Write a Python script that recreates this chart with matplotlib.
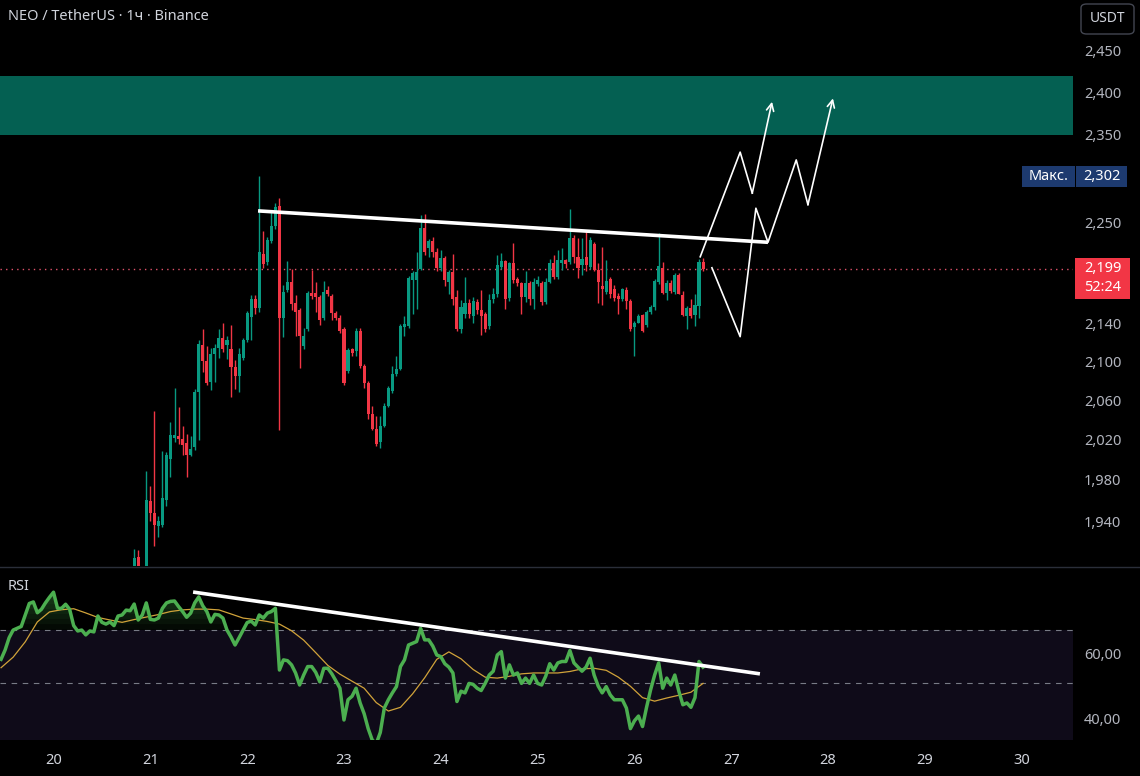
import numpy as np
import matplotlib
matplotlib.use("Agg")
import matplotlib.pyplot as plt
from matplotlib.patches import Rectangle, FancyBboxPatch
from matplotlib.lines import Line2D
from matplotlib.ticker import NullLocator

plt.rcParams['font.family'] = ['Noto Sans', 'DejaVu Sans']

# ------------------------------------------------------------------
# DATA  (time = hours since the 20th 00:00, hourly candles)
# ------------------------------------------------------------------
first_hour = 19
opens = [
    1880, 1888, 1906, 1893, 1884, 1959, 1948, 1935, 1936, 1960,
    2001, 2022, 2024, 2021, 2017, 2005, 2013, 2068, 2117, 2100,
    2079, 2108, 2114, 2125, 2117, 2113, 2094, 2085, 2104, 2123,
    2147, 2166, 2157, 2215, 2206, 2229, 2246, 2268, 2146, 2176,
    2184, 2162, 2154, 2116, 2134, 2173, 2173, 2168, 2146, 2176,
    2169, 2151, 2146, 2134, 2090, 2113, 2111, 2132, 2095, 2078,
    2046, 2031, 2018, 2034, 2054, 2069, 2087, 2092, 2136, 2137,
    2187, 2187, 2199, 2244, 2222, 2229, 2217, 2200, 2211, 2184,
    2195, 2168, 2134, 2150, 2162, 2148, 2163, 2154, 2150, 2137,
    2166, 2172, 2201, 2207, 2167, 2205, 2188, 2183, 2168, 2183,
    2166, 2182, 2183, 2163, 2185, 2205, 2190, 2205, 2208, 2206,
    2233, 2212, 2203, 2212, 2201, 2226, 2198, 2180, 2174, 2188,
    2177, 2169, 2166, 2176, 2164, 2136, 2141, 2149, 2138, 2152,
    2158, 2184, 2200, 2173, 2183, 2174, 2192, 2170, 2148, 2157,
    2149, 2159, 2206,
]
highs = [
    1893, 1913, 1912, 1897, 1989, 1974, 2049, 1945, 2009, 2008,
    2038, 2072, 2053, 2034, 2026, 2024, 2071, 2122, 2134, 2116,
    2114, 2118, 2134, 2140, 2127, 2138, 2102, 2114, 2125, 2153,
    2170, 2170, 2302, 2241, 2234, 2262, 2272, 2278, 2181, 2207,
    2199, 2170, 2156, 2135, 2175, 2198, 2185, 2170, 2186, 2180,
    2171, 2153, 2149, 2136, 2114, 2114, 2135, 2135, 2097, 2080,
    2054, 2044, 2044, 2057, 2075, 2095, 2106, 2139, 2148, 2191,
    2196, 2217, 2258, 2259, 2232, 2234, 2222, 2220, 2213, 2198,
    2215, 2176, 2165, 2190, 2166, 2168, 2166, 2176, 2152, 2171,
    2178, 2214, 2216, 2208, 2206, 2227, 2190, 2185, 2197, 2186,
    2189, 2191, 2186, 2189, 2210, 2214, 2220, 2222, 2210, 2265,
    2236, 2233, 2233, 2240, 2234, 2228, 2205, 2223, 2208, 2190,
    2181, 2173, 2178, 2179, 2166, 2143, 2150, 2150, 2154, 2160,
    2188, 2238, 2206, 2187, 2187, 2194, 2194, 2175, 2159, 2166,
    2172, 2210, 2211,
]
lows = [
    1872, 1885, 1885, 1876, 1880, 1940, 1916, 1925, 1934, 1955,
    1983, 2018, 2016, 2005, 1983, 2004, 2010, 2020, 2089, 2076,
    2070, 2079, 2104, 2110, 2103, 2063, 2071, 2068, 2102, 2120,
    2123, 2150, 2152, 2200, 2203, 2227, 2243, 2030, 2126, 2174,
    2154, 2127, 2093, 2113, 2132, 2166, 2152, 2138, 2144, 2169,
    2144, 2144, 2130, 2076, 2088, 2106, 2106, 2093, 2073, 2041,
    2030, 2014, 2012, 2033, 2053, 2067, 2085, 2091, 2127, 2135,
    2150, 2155, 2198, 2214, 2212, 2212, 2196, 2196, 2180, 2172,
    2160, 2132, 2130, 2146, 2146, 2140, 2150, 2128, 2131, 2134,
    2162, 2168, 2199, 2155, 2164, 2183, 2180, 2150, 2163, 2160,
    2155, 2180, 2160, 2161, 2183, 2188, 2188, 2198, 2200, 2204,
    2205, 2189, 2192, 2197, 2199, 2196, 2162, 2160, 2171, 2167,
    2164, 2150, 2164, 2155, 2132, 2106, 2140, 2131, 2136, 2150,
    2154, 2182, 2171, 2165, 2173, 2171, 2171, 2148, 2134, 2146,
    2137, 2146, 2197,
]
closes = [
    1888, 1905, 1893, 1884, 1960, 1948, 1936, 1940, 1962, 2005,
    2025, 2025, 2021, 2015, 2005, 2011, 2068, 2118, 2100, 2078,
    2108, 2114, 2125, 2113, 2123, 2094, 2085, 2108, 2123, 2151,
    2166, 2157, 2217, 2204, 2230, 2246, 2267, 2146, 2174, 2184,
    2161, 2152, 2127, 2127, 2173, 2169, 2168, 2144, 2174, 2171,
    2151, 2146, 2132, 2078, 2112, 2109, 2132, 2095, 2078, 2046,
    2031, 2016, 2034, 2054, 2073, 2087, 2092, 2137, 2139, 2189,
    2194, 2195, 2244, 2217, 2229, 2217, 2200, 2211, 2187, 2195,
    2166, 2134, 2158, 2162, 2150, 2164, 2154, 2148, 2134, 2165,
    2172, 2203, 2207, 2166, 2205, 2187, 2183, 2168, 2183, 2166,
    2185, 2187, 2163, 2185, 2205, 2190, 2208, 2208, 2204, 2233,
    2212, 2200, 2210, 2203, 2230, 2198, 2184, 2177, 2186, 2172,
    2167, 2166, 2177, 2164, 2134, 2141, 2148, 2132, 2152, 2158,
    2186, 2202, 2173, 2183, 2175, 2192, 2172, 2149, 2157, 2148,
    2160, 2206, 2199,
]

# RSI(14), one value per hour starting at hour -13
rsi_first_hour = -13
rsi = [
    58.0, 61.5, 66.5, 69.8, 70.6, 71.4, 76.8, 82.6, 83.4, 77.9,
    79.6, 82.9, 85.9, 88.7, 80.1, 80.1, 82.2, 79.6, 71.8, 69.4,
    69.8, 67.7, 69.4, 69.0, 76.3, 73.3, 72.5, 73.5, 71.8, 76.3,
    76.8, 79.2, 78.9, 82.3, 74.4, 76.8, 82.9, 74.7, 74.4, 75.3,
    80.1, 82.9, 83.7, 83.9, 81.0, 78.5, 75.7, 77.7, 82.9, 86.1,
    81.4, 78.5, 73.5, 77.1, 76.8, 75.3, 69.8, 66.8, 63.5, 66.5,
    69.8, 73.2, 73.9, 72.1, 76.8, 75.3, 77.7, 78.5, 80.1, 54.2,
    57.8, 57.5, 56.0, 53.2, 49.3, 52.5, 55.4, 55.4, 53.4, 50.3,
    54.8, 54.8, 52.9, 50.6, 48.3, 39.5, 44.9, 45.9, 48.3, 44.0,
    41.1, 37.4, 34.8, 34.0, 36.5, 42.6, 44.9, 46.9, 48.8, 55.4,
    57.8, 63.5, 64.2, 64.9, 70.6, 65.6, 65.6, 63.1, 59.6, 59.0,
    56.4, 55.2, 53.2, 44.4, 47.4, 46.9, 49.8, 49.5, 48.3, 47.6,
    49.8, 52.5, 53.8, 59.6, 60.9, 51.5, 56.0, 52.5, 53.2, 49.8,
    51.5, 49.8, 52.5, 49.8, 49.3, 52.1, 56.4, 54.2, 56.7, 57.2,
    57.2, 61.3, 56.7, 55.2, 53.8, 55.2, 58.4, 52.5, 49.0, 46.9,
    48.8, 46.3, 44.9, 44.9, 44.9, 42.6, 37.4, 39.3, 40.5, 37.9,
    42.8, 47.8, 52.5, 56.7, 48.3, 51.5, 49.3, 52.5, 47.4, 43.5,
    44.0, 42.8, 45.5, 57.2, 55.2,
]
# RSI-based moving average, read every 3 hours from hour -13
ma_step = 3
rsi_ma = [
    55.0, 58.8, 64.8, 73.5, 78.3, 79.4, 79.9, 77.8, 75.6, 74.4,
    73.3, 74.6, 75.8, 77.0, 78.5, 79.3, 79.7, 79.7, 79.3, 77.3,
    75.3, 74.6, 73.7, 72.5, 69.5, 65.5, 60.5, 55.8, 52.8, 50.5,
    48.3, 44.1, 41.8, 42.8, 46.6, 51.6, 58.0, 60.8, 58.2, 54.4,
    51.8, 51.5, 52.1, 52.9, 53.2, 53.2, 53.2, 53.7, 54.6, 54.8,
    54.1, 51.8, 48.9, 45.5, 44.5, 45.4, 46.2, 47.1, 49.8,
]

# drawings (hour, price) / (hour, rsi)
zone_low, zone_high = 2350, 2420
resist_hours = [50.7, 177.1]
resist_prices = [2263, 2228]
path1_hours = [160.3, 170.2, 173.2, 178.1]
path1_prices = [2212, 2330, 2283, 2389]
path2_hours = [163.2, 170.2, 174.1, 177.1, 184.1, 187.0, 193.2]
path2_prices = [2200, 2126, 2266, 2228, 2321, 2270, 2393]
rsi_line_hours = [34.6, 175.1]
rsi_line_values = [88.8, 52.9]

last_price = 2199
max_price = 2302
countdown = "52:24"
price_ticks = [1940, 1980, 2020, 2060, 2100, 2140, 2250, 2350, 2400, 2450]
rsi_ticks = [40, 60]
day_labels = [20, 21, 22, 23, 24, 25, 26, 27, 28, 29, 30]

# ------------------------------------------------------------------
# STYLE
# ------------------------------------------------------------------
BG = "#000000"
UP = "#089981"
DOWN = "#f23645"
TEXT = "#d1d4dc"
AXIS_TEXT = "#b2b5be"
FS = 10.5
W, H = 1140, 776

fig = plt.figure(figsize=(W / 100, H / 100), dpi=100, facecolor=BG)


def box(x0, y0, x1, y1):
    # pixel box (top-left origin) -> figure fraction rect
    return [x0 / W, 1 - y1 / H, (x1 - x0) / W, (y1 - y0) / H]


ax = fig.add_axes(box(0, 0, 1073, 566))
ax_rsi = fig.add_axes(box(0, 568, 1073, 740), sharex=ax)
for a in (ax, ax_rsi):
    a.set_facecolor(BG)
    for s in a.spines.values():
        s.set_visible(False)

# ------------------------------------------------------------------
# PRICE PANEL
# ------------------------------------------------------------------
o = np.array(opens, float)
hi = np.array(highs, float)
lo = np.array(lows, float)
c = np.array(closes, float)
hours = first_hour + np.arange(len(o))
cols = np.where(c >= o, UP, DOWN)

ax.axhspan(zone_low, zone_high, color="#046052", lw=0, zorder=0)
ax.axhline(last_price, color="#e0526a", lw=1.0, ls=(0, (1, 3)), zorder=1)
ax.vlines(hours, lo, hi, colors=cols, lw=1.0, zorder=2)
ax.bar(hours, np.maximum(np.abs(c - o), 1.2), bottom=np.minimum(o, c),
       width=0.76, color=cols, lw=0, zorder=3)

ax.plot(resist_hours, resist_prices, color="white", lw=2.6,
        solid_capstyle="butt", zorder=5)
for ph, pp in ((path1_hours, path1_prices), (path2_hours, path2_prices)):
    ax.plot(ph[:-1], pp[:-1], color="white", lw=1.2, zorder=5)
    ax.annotate("", xy=(ph[-1], pp[-1]), xytext=(ph[-2], pp[-2]),
                arrowprops=dict(arrowstyle="->", color="white", lw=1.2,
                                mutation_scale=13, shrinkA=0, shrinkB=0),
                zorder=5)

ax.set_yscale("log")
ax.set_ylim(1897.2, 2512.8)
ax.set_xlim(-13.26, 252.7)
ax.yaxis.tick_right()
ax.set_yticks(price_ticks, [f"{v:,}" for v in price_ticks])
ax.yaxis.set_minor_locator(NullLocator())
ax.tick_params(axis="y", length=0, pad=8, labelcolor=AXIS_TEXT, labelsize=FS)
ax.tick_params(axis="x", bottom=False, labelbottom=False)

# ------------------------------------------------------------------
# RSI PANEL
# ------------------------------------------------------------------
r = np.array(rsi)
rh = rsi_first_hour + np.arange(len(r))
mh = rsi_first_hour + ma_step * np.arange(len(rsi_ma))

ax_rsi.axhspan(30, 70, color="#0f0b19", lw=0, zorder=0)
for lvl in np.linspace(70, 92, 10):
    ax_rsi.fill_between(rh, lvl, r, where=r > lvl, interpolate=True,
                        color="#4caf50", alpha=0.06, lw=0, zorder=1)
for lvl in (70, 50):
    ax_rsi.axhline(lvl, color="#787b86", lw=0.8, ls=(0, (5, 5)), zorder=1)
ax_rsi.plot(mh, rsi_ma, color="#d1a33a", lw=0.9, zorder=2)
ax_rsi.plot(rh, r, color="#4caf50", lw=2.5, zorder=3)
ax_rsi.plot(rsi_line_hours, rsi_line_values, color="white", lw=2.6,
            solid_capstyle="butt", zorder=4)

ax_rsi.set_yscale("log")
ax_rsi.set_ylim(34.8, 103.4)
ax_rsi.yaxis.tick_right()
ax_rsi.set_yticks(rsi_ticks, [f"{v},00" for v in rsi_ticks])
ax_rsi.yaxis.set_minor_locator(NullLocator())
ax_rsi.tick_params(axis="y", length=0, pad=8, labelcolor=AXIS_TEXT, labelsize=FS)

ax_rsi.set_xticks([24 * (d - day_labels[0]) for d in day_labels],
                  [str(d) for d in day_labels])
ax_rsi.tick_params(axis="x", length=0, pad=9, labelcolor=TEXT, labelsize=FS)
for lab in ax_rsi.get_xticklabels():
    if lab.get_text() == "24":
        lab.set_fontweight("bold")

# ------------------------------------------------------------------
# LABELS / TAGS
# ------------------------------------------------------------------
fig.add_artist(Line2D([0, 1], [1 - 567 / H] * 2, color="#2a2e39", lw=1,
                      transform=fig.transFigure))
fig.text(8 / W, 1 - 16 / H, "NEO / TetherUS · 1ч · Binance", color=TEXT,
         fontsize=FS, va="center")
fig.text(8 / W, 1 - 586 / H, "RSI", color=TEXT, fontsize=FS, va="center")

usdt = FancyBboxPatch((1081 / W, 1 - 34 / H), 53 / W, 30 / H,
                      boxstyle="round,pad=0,rounding_size=0.005",
                      transform=fig.transFigure, facecolor=BG,
                      edgecolor="#434651", lw=1)
fig.add_artist(usdt)
fig.text(1107.5 / W, 1 - 18 / H, "USDT", color=TEXT, fontsize=10,
         ha="center", va="center", fontweight="bold")


def tag(x0, x1, yc, h, color, text):
    fig.add_artist(Rectangle((x0 / W, (yc - h / 2) / H), (x1 - x0) / W, h / H,
                             transform=fig.transFigure, color=color, lw=0))
    fig.text((x0 + x1) / 2 / W, yc / H, text, color="white", fontsize=FS,
             ha="center", va="center")


y_max = ax.transData.transform((0, max_price))[1]
tag(1022, 1075, y_max, 21, "#1d3a6f", "Макс.")
tag(1076, 1127, y_max, 21, "#1d3a6f", f"{max_price:,}")

y_last = ax.transData.transform((0, last_price))[1]
fig.add_artist(Rectangle((1075 / W, (y_last - 30) / H), 55 / W, 41 / H,
                         transform=fig.transFigure, color=DOWN, lw=0))
fig.text(1102.5 / W, y_last / H, f"{last_price:,}", color="white",
         fontsize=FS, ha="center", va="center")
fig.text(1102.5 / W, (y_last - 19) / H, countdown, color="white",
         fontsize=FS, ha="center", va="center")

fig.savefig("out.png", dpi=100, facecolor=BG)
